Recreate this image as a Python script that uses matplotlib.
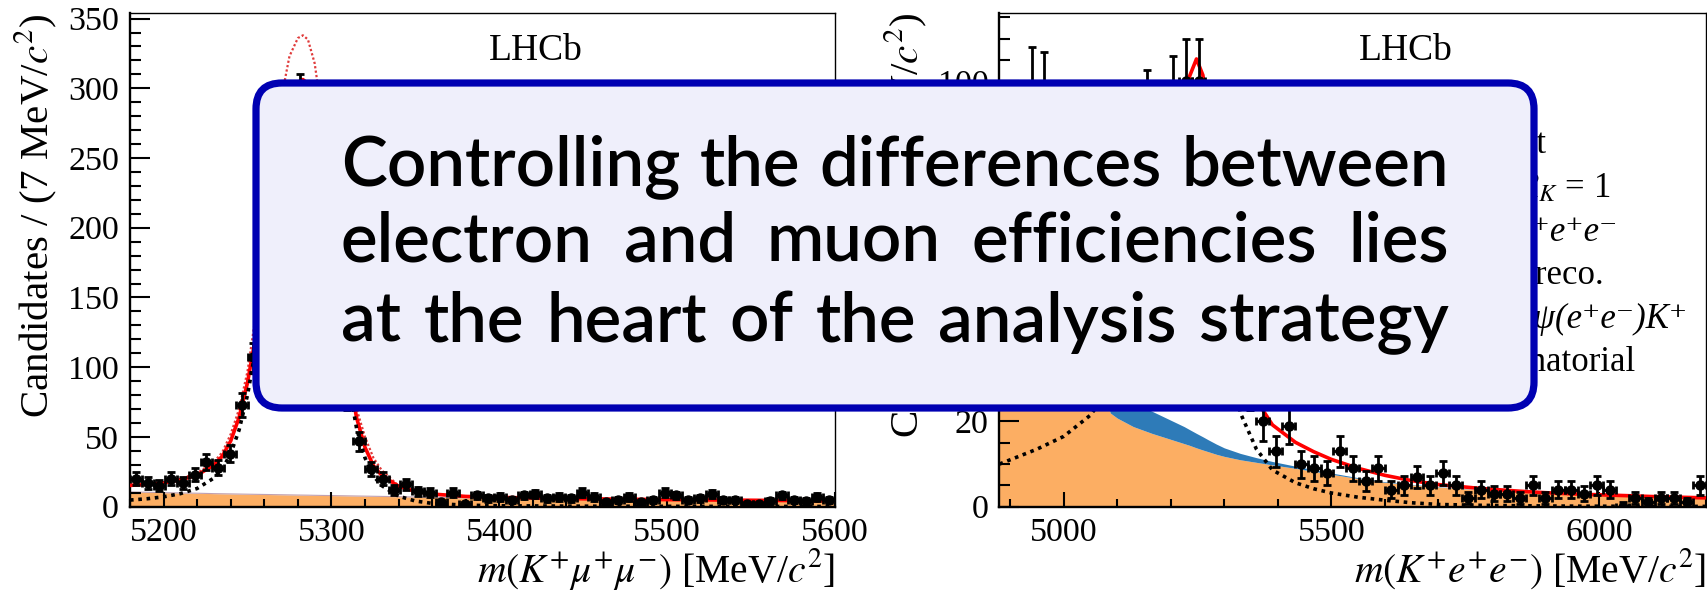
import numpy as np
import matplotlib
matplotlib.use("Agg")
import matplotlib.pyplot as plt
from matplotlib.patches import FancyBboxPatch
from matplotlib.ticker import MultipleLocator

plt.rcParams['font.family'] = ['Liberation Serif', 'DejaVu Serif']
plt.rcParams['mathtext.fontset'] = 'stix'

# ---------------- B+ -> K+ mu+ mu- (7 MeV bins, 5180-5600) ----------------
mumu_lo, mumu_hi, mumu_bin = 5180, 5600, 7
mumu_counts = [20, 17, 15, 20, 17, 23, 32, 28, 38, 73,
               107, 150, 205, 262, 293, 255, 185, 120, 78, 47,
               27, 20, 12, 16, 11, 10, 3, 10, 2, 8,
               6, 7, 5, 8, 9, 6, 7, 6, 10, 7,
               3, 5, 7, 3, 5, 10, 8, 5, 6, 9,
               5, 5, 2, 2, 4, 8, 5, 4, 7, 5]
# fit components, sampled off the figure
mumu_mass = [5180, 5190, 5200, 5210, 5220, 5230, 5235, 5240, 5245, 5250,
             5255, 5260, 5265, 5270, 5275, 5280, 5283, 5286, 5290, 5295,
             5300, 5305, 5310, 5315, 5320, 5325, 5330, 5340, 5350, 5360,
             5380, 5400, 5450, 5500, 5550, 5600]
mumu_signal = [4.7, 5.6, 7.0, 9.3, 13.0, 20.5, 27, 38, 55, 80,
               114, 158, 207, 250, 281, 296, 298, 295, 280, 243,
               192, 137, 90, 56, 35, 22, 15, 7.5, 4.0, 2.3,
               1.0, 0.6, 0.3, 0.2, 0.15, 0.1]
mumu_comb = [10.5, 10.3, 10.0, 9.8, 9.6, 9.3, 9.2, 9.1, 9.0, 8.9,
             8.8, 8.7, 8.6, 8.5, 8.4, 8.3, 8.25, 8.2, 8.1, 8.0,
             7.9, 7.8, 7.7, 7.6, 7.5, 7.4, 7.3, 7.1, 6.9, 6.7,
             6.3, 6.0, 5.3, 4.8, 4.4, 4.0]
mumu_alt = [16, 16.5, 17.5, 20, 24, 32, 39, 52, 70, 97,
            138, 192, 247, 292, 323, 336, 338, 335, 318, 276,
            216, 152, 98, 70, 50, 35, 26, 15, 10.5, 8.8,
            7.5, 6.8, 5.7, 5.1, 4.6, 4.2]

# ---------------- B+ -> K+ e+ e- (24 MeV bins, 4880-6200) ----------------
ee_lo, ee_hi, ee_bin = 4880, 6200, 24
ee_counts = [86, 88, 98, 97, 85, 80, 70, 62, 55, 58,
             66, 93, 84, 96, 100, 100, 82, 60, 38, 28,
             20, 13, 19, 10, 9, 8, 13, 9, 6, 9,
             4, 5, 7, 5, 8, 5, 2, 4, 3, 3,
             2, 5, 2, 4, 4, 3, 5, 4, 0, 2,
             1, 2, 2, 1, 5]
ee_mass = [4880, 4900, 4950, 5000, 5050, 5087, 5100, 5130, 5165, 5200,
           5225, 5235, 5248, 5260, 5270, 5285, 5300, 5330, 5360, 5390,
           5433, 5467, 5500, 5550, 5600, 5650, 5700, 5780, 5850, 5900,
           5967, 6050, 6100, 6200]
ee_signal = [10, 11, 13.5, 16.5, 21.5, 28, 31, 42, 60, 74,
             78, 83, 88, 85, 76, 60, 43, 22, 13.5, 8.6,
             5.6, 4.2, 3.2, 2.2, 1.5, 0.9, 0.5, 0.3, 0.2, 0.15,
             0.1, 0.08, 0.06, 0.05]
ee_jpsi = [1.0, 1.5, 3.0, 4.5, 5.5, 6.0, 6.0, 5.8, 5.2, 4.5,
           4.0, 3.7, 3.4, 3.1, 2.8, 2.4, 2.0, 1.5, 1.1, 0.8,
           0.5, 0.4, 0.3, 0.2, 0.15, 0.1, 0.08, 0.05, 0.03, 0.02,
           0.01, 0.0, 0.0, 0.0]
ee_bkg = [75, 78, 76, 62, 38, 22, 20.8, 18.8, 17.2, 15.8,
          14.8, 14.4, 13.8, 13.3, 12.9, 12.3, 11.8, 11.0, 10.4, 9.8,
          9.0, 8.3, 7.6, 6.6, 5.7, 5.1, 4.6, 3.9, 3.4, 3.1,
          2.8, 2.5, 2.3, 2.0]
# legend entries: (label, italic?)
ee_legend = [("Data", False), ("Total fit", False), (r"Total $R_K$ = 1", False),
             ("B⁺→K⁺e⁺e⁻", True), ("Partial reco.", False),
             ("B⁺→J/ψ(e⁺e⁻)K⁺", True), ("Combinatorial", False)]

box_lines = ["Controlling the differences between",
             "electron and muon efficiencies lies",
             "at the heart of the analysis strategy"]

ORANGE = '#fcae63'
BLUE = '#2e7bb8'

W, H = 1708, 595
fig = plt.figure(figsize=(W / 100, H / 100), dpi=100)
ax1 = fig.add_axes([130 / W, 1 - 506.6 / H, 705 / W, 493.6 / H])
ax2 = fig.add_axes([999.5 / W, 1 - 506.6 / H, 706.5 / W, 493.6 / H])


def draw_data(ax, lo, bin_w, counts):
    n = np.array(counts, dtype=float)
    x = lo + bin_w * (np.arange(len(n)) + 0.5)
    lo_err = np.sqrt(n)
    hi_err = np.where(n > 0, np.sqrt(n), 1.15)
    ax.errorbar(x, n, xerr=bin_w / 2, yerr=[lo_err, hi_err], fmt='o', color='k',
                ms=6.5, elinewidth=2.0, capsize=2.8, capthick=2.0, zorder=6)


def style(ax, xlim, ylim, xmaj, xmin, ymaj, ymin):
    ax.set_xlim(*xlim)
    ax.set_ylim(*ylim)
    ax.xaxis.set_major_locator(MultipleLocator(xmaj))
    ax.xaxis.set_minor_locator(MultipleLocator(xmin))
    ax.yaxis.set_major_locator(MultipleLocator(ymaj))
    ax.yaxis.set_minor_locator(MultipleLocator(ymin))
    ax.tick_params(which='both', direction='in', top=False, right=False,
                   width=1.5, labelsize=24.5, pad=8)
    ax.tick_params(axis='y', which='major', length=14.5)
    ax.tick_params(axis='y', which='minor', length=8)
    ax.tick_params(axis='x', which='major', length=11)
    ax.tick_params(axis='x', which='minor', length=5.5)
    for s in ['left', 'bottom']:
        ax.spines[s].set_linewidth(1.7)
    for s in ['top', 'right']:
        ax.spines[s].set_linewidth(1.0)


# left panel
m = np.array(mumu_mass)
sig = np.array(mumu_signal)
comb = np.array(mumu_comb)
ax1.fill_between(m, 0, comb, color=ORANGE, lw=0, zorder=1)
ax1.plot(m, comb, color='#c0a0b0', lw=0.8, zorder=1.5)
ax1.plot(m, mumu_alt, color='#e03a3a', lw=1.6, ls=(0, (1, 1)), zorder=3)
ax1.plot(m, comb + sig, color='red', lw=2.6, zorder=4)
ax1.plot(m, sig, color='k', lw=2.6, ls=(0, (1, 1.3)), zorder=5)
draw_data(ax1, mumu_lo, mumu_bin, mumu_counts)
style(ax1, (mumu_lo, mumu_hi), (0, 354), 100, 20, 50, 10)
ax1.set_xlabel(r'$m(K^{+}\mu^{+}\mu^{-})$ [MeV/$c^{2}$]', fontsize=28.5, loc='right')
ax1.set_ylabel(r'Candidates / (7 MeV/$c^{2}$)', fontsize=29.5, loc='top')
ax1.xaxis.set_label_coords(1.0, -0.08)
ax1.yaxis.set_label_coords(-0.10, 1.0)
ax1.text(0.576, 0.923, 'LHCb', transform=ax1.transAxes, fontsize=27,
         ha='center', va='center', zorder=7)

# right panel
m = np.array(ee_mass)
bkg = np.array(ee_bkg)
jpsi = bkg + np.array(ee_jpsi)
total = jpsi + np.array(ee_signal)
ax2.fill_between(m, 0, bkg, color=ORANGE, lw=0, zorder=1)
ax2.fill_between(m, bkg, jpsi, color=BLUE, lw=0, zorder=1)
ax2.plot(m, total, color='red', lw=2.6, zorder=4)
ax2.plot(m, ee_signal, color='k', lw=2.6, ls=(0, (1, 1.3)), zorder=5)
draw_data(ax2, ee_lo, ee_bin, ee_counts)
style(ax2, (ee_lo, ee_hi), (0, 116), 500, 100, 20, 5)
ax2.set_xlabel(r'$m(K^{+}e^{+}e^{-})$ [MeV/$c^{2}$]', fontsize=28.5, loc='right')
ax2.set_ylabel(r'Candidates / (24 MeV/$c^{2}$)', fontsize=29.5, loc='top')
ax2.xaxis.set_label_coords(1.0, -0.08)
ax2.yaxis.set_label_coords(-0.10, 1.0)
ax2.text(0.575, 0.923, 'LHCb', transform=ax2.transAxes, fontsize=27,
         ha='center', va='center', zorder=7)
for i, (lab, ital) in enumerate(ee_legend):
    ax2.text(0.616, 0.804 - i * 0.0883, lab, transform=ax2.transAxes,
             fontsize=25, ha='left', va='baseline', zorder=7,
             style='italic' if ital else 'normal')

# overlay call-out box (inch coordinates)
box = FancyBboxPatch((256 / 100, (H - 408) / 100), (1534 - 256) / 100, (408 - 83) / 100,
                     boxstyle='round,pad=0,rounding_size=0.26',
                     transform=fig.dpi_scale_trans, facecolor='#efeffb',
                     edgecolor='#0000b2', linewidth=5.2, zorder=10)
fig.patches.append(box)

box_font = dict(family=['Lato', 'DejaVu Sans'], weight='semibold')
fig.canvas.draw()
rend = fig.canvas.get_renderer()


def text_width(s, size):
    t = fig.text(0, 0, s, fontsize=size, **box_font)
    w = t.get_window_extent(rend).width
    t.remove()
    return w


x_left, x_right = 341, 1449
span = x_right - x_left
size = 47
natural = max(text_width(line, size) for line in box_lines)
size *= span * 0.995 / natural

baselines = [185, 262, 341.5]
for line, yb in zip(box_lines, baselines):
    words = line.split()
    ws = [text_width(w, size) for w in words]
    gap = (span - sum(ws)) / (len(words) - 1)
    x = x_left
    for w, wd in zip(words, ws):
        fig.text(x / W, 1 - yb / H, w, fontsize=size, ha='left', va='baseline',
                 zorder=11, **box_font)
        x += wd + gap

fig.savefig('out.png', dpi=100)
